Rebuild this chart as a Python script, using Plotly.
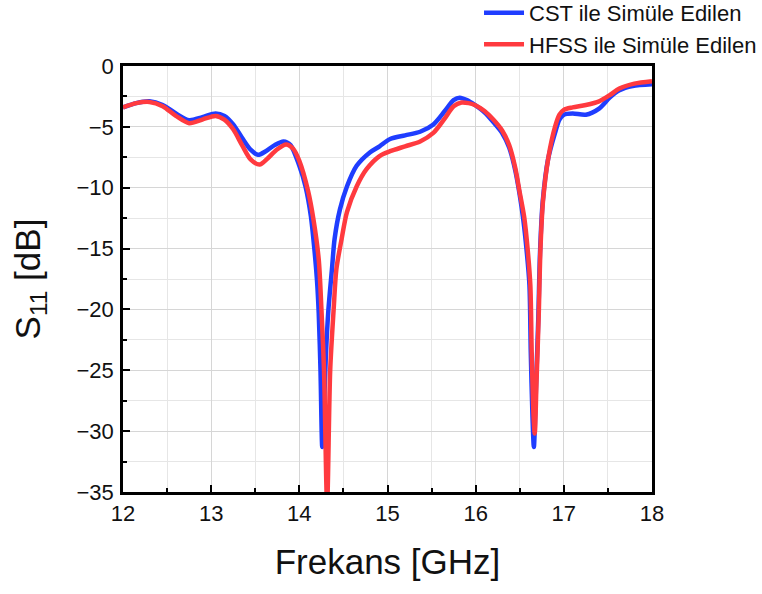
import plotly.graph_objects as go

# Frequency sweep (GHz) and S11 (dB) for the CST simulation
cst_freq = [12.0, 12.15, 12.3, 12.45, 12.6, 12.75, 12.9, 13.05, 13.15, 13.25,
            13.35, 13.45, 13.53, 13.62, 13.72, 13.82, 13.9, 14.0, 14.07, 14.13,
            14.17, 14.2, 14.22, 14.24, 14.26, 14.28, 14.3, 14.33, 14.37, 14.4,
            14.46, 14.54, 14.65, 14.8, 14.91, 15.03, 15.2, 15.37, 15.52, 15.65,
            15.75, 15.82, 15.9, 15.99, 16.1, 16.2, 16.3, 16.38, 16.45, 16.5,
            16.54, 16.58, 16.61, 16.625, 16.645, 16.66, 16.685, 16.71, 16.73, 16.76,
            16.82, 16.9, 16.95, 17.0, 17.1, 17.25, 17.4, 17.52, 17.63, 17.78,
            18.0]
cst_s11 = [-3.4, -3.05, -2.9, -3.2, -3.9, -4.45, -4.2, -3.9, -4.1, -4.8,
           -5.9, -6.9, -7.3, -7.0, -6.5, -6.2, -6.5, -8.2, -9.9, -12.3,
           -15.0, -17.6, -20.3, -25.0, -31.3, -28.0, -24.0, -20.0, -16.7, -14.2,
           -11.8, -9.9, -8.2, -7.1, -6.6, -6.0, -5.7, -5.4, -4.8, -3.7,
           -2.8, -2.6, -2.8, -3.2, -3.8, -4.6, -5.5, -6.7, -8.6, -10.6,
           -12.6, -15.3, -18.0, -23.5, -28.9, -31.3, -26.2, -20.8, -15.3, -11.2,
           -7.7, -5.5, -4.4, -4.0, -3.9, -4.0, -3.5, -2.6, -2.0, -1.65,
           -1.5]

# Frequency sweep (GHz) and S11 (dB) for the HFSS simulation
hfss_freq = [12.0, 12.15, 12.3, 12.45, 12.6, 12.75, 12.9, 13.05, 13.15, 13.25,
             13.35, 13.45, 13.55, 13.64, 13.74, 13.85, 13.93, 14.0, 14.1, 14.16,
             14.22, 14.25, 14.28, 14.315, 14.35, 14.39, 14.42, 14.48, 14.54, 14.65,
             14.76, 14.91, 15.03, 15.2, 15.37, 15.52, 15.65, 15.75, 15.84, 15.92,
             15.99, 16.1, 16.2, 16.3, 16.38, 16.45, 16.5, 16.55, 16.59, 16.62,
             16.635, 16.655, 16.67, 16.69, 16.715, 16.735, 16.765, 16.825, 16.9, 16.95,
             17.0, 17.1, 17.25, 17.4, 17.52, 17.63, 17.8, 18.0]
hfss_s11 = [-3.4, -3.05, -2.95, -3.3, -4.1, -4.7, -4.4, -4.1, -4.4, -5.2,
            -6.5, -7.7, -8.1, -7.6, -6.9, -6.45, -6.8, -7.8, -10.3, -12.6,
            -15.9, -19.9, -25.0, -36.0, -25.0, -19.9, -16.7, -14.2, -12.0, -9.9,
            -8.5, -7.4, -7.0, -6.6, -6.2, -5.5, -4.3, -3.3, -3.0, -3.05,
            -3.2, -3.7, -4.4, -5.3, -6.5, -8.4, -10.4, -12.4, -15.1, -18.0,
            -23.3, -28.5, -30.2, -26.0, -20.5, -15.0, -11.0, -7.5, -5.0, -4.0,
            -3.6, -3.4, -3.2, -2.9, -2.4, -1.85, -1.45, -1.25]

x_ticks = [12, 13, 14, 15, 16, 17, 18]
y_ticks = [0, -5, -10, -15, -20, -25, -30, -35]

FONT = "Liberation Sans, Arial, sans-serif"
GRID = "#d6d6d6"

fig = go.Figure()
fig.add_trace(go.Scatter(
    x=cst_freq, y=cst_s11, mode="lines", name="CST ile Simüle Edilen",
    line=dict(color="#1f3dff", width=4.5, shape="spline", smoothing=0.8),
))
fig.add_trace(go.Scatter(
    x=hfss_freq, y=hfss_s11, mode="lines", name="HFSS ile Simüle Edilen",
    line=dict(color="#ff3a3f", width=4.5, shape="spline", smoothing=0.8),
))

axis_common = dict(
    showline=True, linecolor="black", linewidth=2.5, mirror=True,
    ticks="inside", ticklen=7, tickwidth=2, tickcolor="black",
    showgrid=True, gridcolor=GRID, gridwidth=1, zeroline=False,
    tickfont=dict(family=FONT, size=22, color="#111111"),
)

fig.update_xaxes(
    range=[12, 18], tickvals=x_ticks, ticktext=[str(v) for v in x_ticks],
    minor=dict(dtick=0.5, tick0=12, ticks="inside", ticklen=4, tickwidth=2,
               tickcolor="black", showgrid=True, gridcolor="#e6e6e6"),
    title=dict(text="Frekans [GHz]", font=dict(family=FONT, size=35, color="#111111"),
               standoff=25),
    ticklabelstandoff=0,
    **axis_common,
)
fig.update_yaxes(
    range=[-35, 0], tickvals=y_ticks, ticktext=[str(v).replace("-", "\u2212") for v in y_ticks],
    minor=dict(dtick=2.5, tick0=0, ticks="inside", ticklen=4, tickwidth=2,
               tickcolor="black", showgrid=True, gridcolor="#e6e6e6"),
    title=dict(text="S<sub>11</sub> [dB]", font=dict(family=FONT, size=35, color="#111111"),
               standoff=26),
    ticklabelstandoff=2,
    **axis_common,
)

fig.update_layout(
    width=762, height=594,
    margin=dict(l=123, r=110, t=66, b=102, autoexpand=False),
    paper_bgcolor="white", plot_bgcolor="white",
    showlegend=True,
    legend=dict(
        x=0.673, y=1.174, xanchor="left", yanchor="top",
        font=dict(family=FONT, size=22, color="#111111"),
        bgcolor="rgba(0,0,0,0)", borderwidth=0,
        tracegroupgap=0, itemwidth=40,
    ),
)

fig.write_html("out.html")
